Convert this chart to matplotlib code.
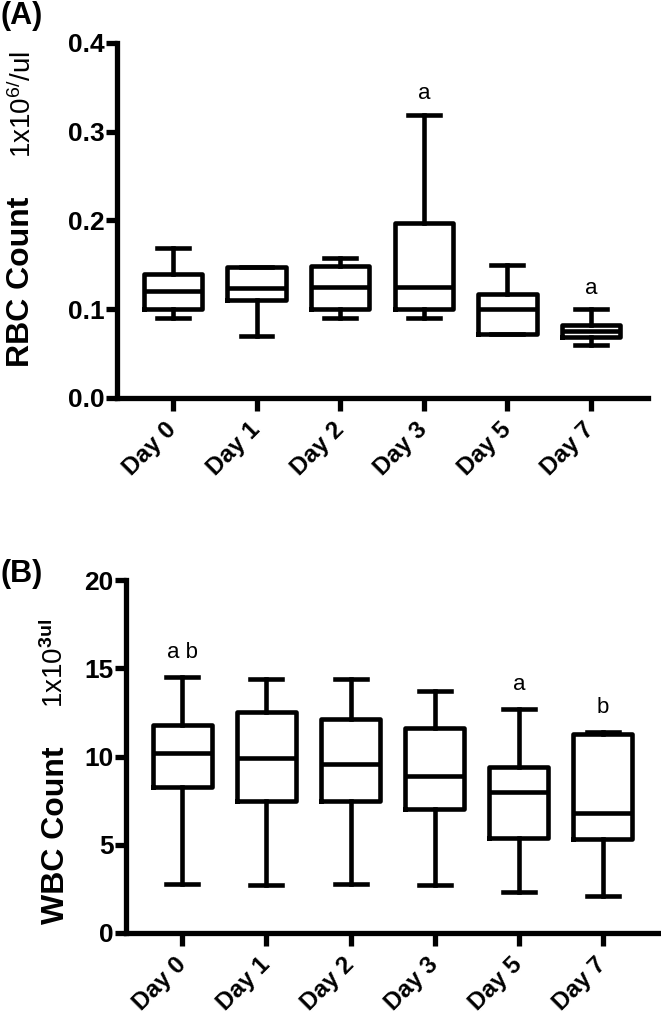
import matplotlib
matplotlib.use("Agg")
import matplotlib.pyplot as plt

plt.rcParams['font.family'] = ['Liberation Sans', 'DejaVu Sans']
plt.rcParams['mathtext.fontset'] = 'custom'
plt.rcParams['mathtext.rm'] = 'Liberation Sans'
plt.rcParams['mathtext.bf'] = 'Liberation Sans:bold'
plt.rcParams['mathtext.it'] = 'Liberation Sans'

days = ["Day 0", "Day 1", "Day 2", "Day 3", "Day 5", "Day 7"]

# Panel A: RBC count (1x10^6/ul)
rbc_whislo = [0.09, 0.07, 0.09, 0.09, 0.072, 0.06]
rbc_q1     = [0.10, 0.11, 0.10, 0.10, 0.072, 0.069]
rbc_med    = [0.12, 0.124, 0.125, 0.125, 0.10, 0.075]
rbc_q3     = [0.14, 0.148, 0.149, 0.197, 0.117, 0.082]
rbc_whishi = [0.169, 0.148, 0.158, 0.319, 0.15, 0.10]
rbc_letters = ["", "", "", "a", "", "a"]

# Panel B: WBC count (1x10^3/ul)
wbc_whislo = [2.8, 2.7, 2.8, 2.7, 2.3, 2.1]
wbc_q1     = [8.3, 7.5, 7.5, 7.0, 5.4, 5.3]
wbc_med    = [10.2, 9.9, 9.6, 8.9, 8.0, 6.8]
wbc_q3     = [11.8, 12.5, 12.1, 11.6, 9.4, 11.3]
wbc_whishi = [14.5, 14.4, 14.4, 13.7, 12.7, 11.4]
wbc_letters = ["a b", "", "", "", "a", "b"]

LW = 3.3
SPW = 3.8

fig = plt.figure(figsize=(6.61, 10.16), dpi=100)


def make_stats(lo, q1, med, q3, hi):
    return [dict(whislo=a, q1=b, med=c, q3=d, whishi=e, fliers=[])
            for a, b, c, d, e in zip(lo, q1, med, q3, hi)]


def draw_panel(ax, stats, ylim, yticks, yticklabels, letters, letter_offset):
    pos = list(range(len(days)))
    ax.bxp(stats, positions=pos, widths=0.7, showfliers=False,
           boxprops=dict(color='black', linewidth=LW),
           medianprops=dict(color='black', linewidth=LW),
           whiskerprops=dict(color='black', linewidth=LW),
           capprops=dict(color='black', linewidth=LW),
           capwidths=0.38)
    ax.set_xlim(-0.67, 5.68)
    ax.set_ylim(*ylim)
    ax.set_yticks(yticks)
    ax.set_yticklabels(yticklabels, fontsize=19, fontweight='bold')
    ax.set_xticks(pos)
    ax.set_xticklabels(days, fontsize=17.5, fontweight='bold', rotation=45,
                       ha='right', va='center', rotation_mode='anchor')
    for s in ['top', 'right']:
        ax.spines[s].set_visible(False)
    for s in ['left', 'bottom']:
        ax.spines[s].set_linewidth(SPW)
    ax.tick_params(axis='y', length=8, width=SPW, pad=1)
    ax.tick_params(axis='x', length=9, width=SPW, pad=11)
    for p, s, lt in zip(pos, stats, letters):
        if lt:
            ax.text(p, s['whishi'] + letter_offset, lt, ha='center', va='bottom',
                    fontsize=16)


axA = fig.add_axes([0.177, 0.6083, 0.803, 0.3494])
draw_panel(axA, make_stats(rbc_whislo, rbc_q1, rbc_med, rbc_q3, rbc_whishi),
           (0, 0.4), [0, 0.1, 0.2, 0.3, 0.4], ["0.0", "0.1", "0.2", "0.3", "0.4"],
           rbc_letters, 0.012)

axB = fig.add_axes([0.1906, 0.0817, 0.808, 0.3474])
draw_panel(axB, make_stats(wbc_whislo, wbc_q1, wbc_med, wbc_q3, wbc_whishi),
           (0, 20), [0, 5, 10, 15, 20], ["0", "5", "10", "15", "20"],
           wbc_letters, 0.8)

# panel letters
fig.text(0.0, 1 - 16 / 1016, "(A)", fontsize=22, fontweight='bold', ha='left', va='center')
fig.text(0.0, 1 - 574 / 1016, "(B)", fontsize=22, fontweight='bold', ha='left', va='center')

# y labels
fig.text(0.032, 1 - 282 / 1016, "RBC Count", rotation=90, fontsize=23,
         fontweight='bold', ha='center', va='center')
fig.text(0.034, 1 - 105 / 1016, "1x10$^{6/}$/ul", rotation=90, fontsize=20,
         ha='center', va='center')
fig.text(0.085, 1 - 835 / 1016, "WBC Count", rotation=90, fontsize=23,
         fontweight='bold', ha='center', va='center')
fig.text(0.083, 1 - 663 / 1016, r"1x10$^{\mathbf{3ul}}$", rotation=90, fontsize=20,
         ha='center', va='center')

fig.savefig("out.png", dpi=100)
